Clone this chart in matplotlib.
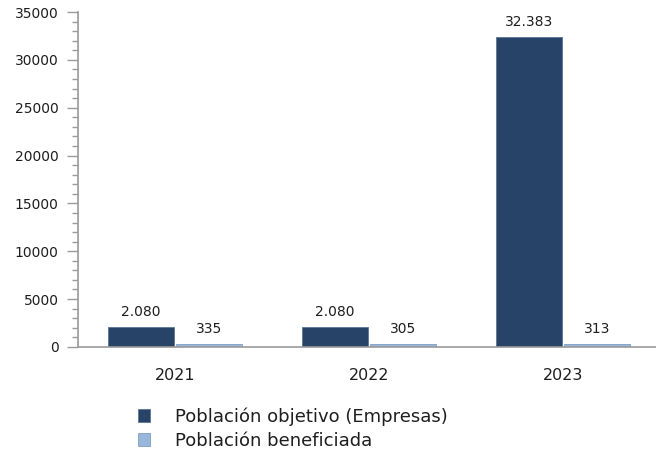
import numpy as np
import matplotlib.pyplot as plt
from matplotlib.ticker import MultipleLocator

# Datos
anios = ['2021', '2022', '2023']
poblacion_objetivo = [2080, 2080, 32383]
poblacion_beneficiada = [335, 305, 313]
series = ['Población objetivo (Empresas)', 'Población beneficiada']

color_oscuro = '#274468'
color_claro = '#97b6da'
gris = '#9a9a9a'
texto = '#1e1e1e'

def formato(v):
    return f'{v:,}'.replace(',', '.')

fig = plt.figure(figsize=(6.56, 4.65), dpi=100)
ax = fig.add_axes([0.119, 0.254, 0.887, 0.72])

x = np.arange(len(anios))
ancho = 0.34
desp = 0.175
b1 = ax.bar(x - desp, poblacion_objetivo, ancho, color=color_oscuro,
            edgecolor='#5a7595', linewidth=0.6, label=series[0])
b2 = ax.bar(x + desp, poblacion_beneficiada, ancho, color=color_claro,
            edgecolor='#7f9fc4', linewidth=0.6, label=series[1])

for barras, valores in ((b1, poblacion_objetivo), (b2, poblacion_beneficiada)):
    for b, v in zip(barras, valores):
        ax.text(b.get_x() + b.get_width() / 2, v + 800, formato(v),
                ha='center', va='bottom', fontsize=10, color=texto)

ax.set_xlim(-0.5, 2.5)
ax.set_ylim(0, 35000)
ax.set_xticks(x)
ax.set_xticklabels(anios, fontsize=11.5, color=texto)
ax.tick_params(axis='x', length=0, pad=15)
ax.yaxis.set_major_locator(MultipleLocator(5000))
ax.yaxis.set_minor_locator(MultipleLocator(1000))
ax.tick_params(axis='y', which='major', length=8, width=1, color=gris,
               labelsize=10, labelcolor=texto, pad=6)
ax.tick_params(axis='y', which='minor', length=4.3, width=1, color=gris)

for lado in ('top', 'right'):
    ax.spines[lado].set_visible(False)
ax.spines['left'].set_color(gris)
ax.spines['bottom'].set_color(gris)
ax.spines['left'].set_linewidth(1.2)
ax.spines['bottom'].set_linewidth(1.2)

fig.legend(handles=[b1, b2], labels=series, loc='upper left',
           bbox_to_anchor=(0.21, 0.124), frameon=False, fontsize=13,
           handlelength=0.67, handleheight=0.67, handletextpad=1.4,
           labelspacing=0.33, borderaxespad=0, borderpad=0,
           labelcolor=texto)

fig.savefig('out.png', dpi=100)
